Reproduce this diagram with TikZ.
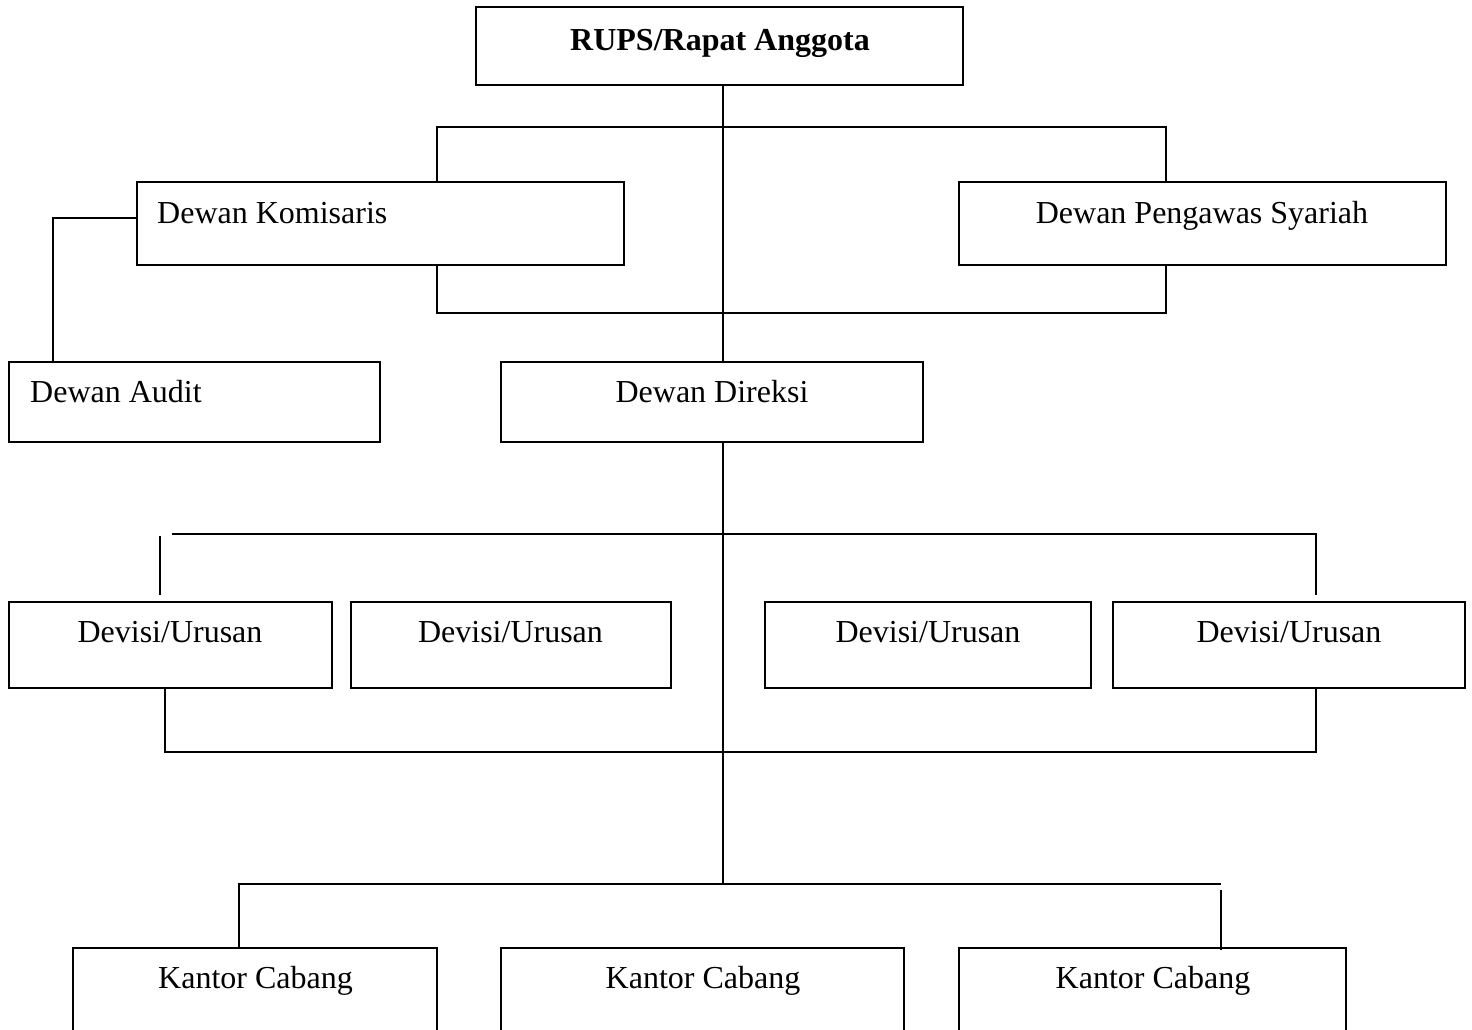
\documentclass[tikz,border=0pt]{standalone}
\usepackage{fontspec}
\setmainfont{Liberation Serif}
\begin{document}
\begin{tikzpicture}[x=1pt,y=-1pt,
  box/.style={draw, line width=1.6pt, inner sep=0pt, rectangle},
  txt/.style={inner sep=0pt, font=\fontsize{32}{38}\selectfont},
  conn/.style={line width=1.6pt}]
\useasboundingbox[fill=white] (0,0) rectangle (1472,1030);
\clip (0,0) rectangle (1472,1030);
% boxes
\node[box, minimum width=487, minimum height=78] (rups) at (719.5,46) {};
\node[box, minimum width=487, minimum height=83] (kom) at (380.5,223.5) {};
\node[box, minimum width=487, minimum height=83] (ps) at (1202.5,223.5) {};
\node[box, minimum width=371, minimum height=80] (audit) at (194.5,402) {};
\node[box, minimum width=422, minimum height=80] (direksi) at (712,402) {};
\node[box, minimum width=323, minimum height=86] (dev1) at (170.5,645) {};
\node[box, minimum width=320, minimum height=86] (dev2) at (511,645) {};
\node[box, minimum width=326, minimum height=86] (dev3) at (928,645) {};
\node[box, minimum width=352, minimum height=86] (dev4) at (1289,645) {};
\node[box, minimum width=364, minimum height=112] (kc1) at (255,1004) {};
\node[box, minimum width=403, minimum height=112] (kc2) at (702.5,1004) {};
\node[box, minimum width=387, minimum height=112] (kc3) at (1152.5,1004) {};
% texts
\node[txt, anchor=base] (rupst) at (720,51) {\bfseries RUPS/Rapat Anggota};
\node[txt, anchor=base west] (komt) at (157,223) {Dewan Komisaris};
\node[txt, anchor=base] (pst) at (1202,223) {Dewan Pengawas Syariah};
\node[txt, anchor=base west] (auditt) at (30,402) {Dewan Audit};
\node[txt, anchor=base] (direksit) at (712,402) {Dewan Direksi};
\node[txt, anchor=base] (dev1t) at (170,642) {Devisi/Urusan};
\node[txt, anchor=base] (dev2t) at (510.5,642) {Devisi/Urusan};
\node[txt, anchor=base] (dev3t) at (928,642) {Devisi/Urusan};
\node[txt, anchor=base] (dev4t) at (1289,642) {Devisi/Urusan};
\node[txt, anchor=base] (kc1t) at (255.5,988) {Kantor Cabang};
\node[txt, anchor=base] (kc2t) at (703,988) {Kantor Cabang};
\node[txt, anchor=base] (kc3t) at (1153,988) {Kantor Cabang};
% coordinates
\coordinate (c1) at (723,127);
\coordinate (kt) at (437,127);
\coordinate (pt) at (1166,127);
\coordinate (kb) at (437,313);
\coordinate (pb) at (1166,313);
\coordinate (ac) at (53,218);
\coordinate (j3) at (723,884);
\coordinate (dtl) at (172,534);
\coordinate (dtr) at (1316,534);
\coordinate (dtre) at (1316,595);
\coordinate (dls) at (160,536);
\coordinate (dle) at (160,595);
\coordinate (dbl) at (165,752);
\coordinate (dbr) at (1316,752);
\coordinate (kl) at (239,884);
\coordinate (kr) at (1221,884);
\coordinate (krs) at (1221,890);
\coordinate (kre) at (1221,950);
% connectors
\draw[conn] (rups.south -| c1) -- (direksi.north -| c1);
\draw[conn] (kom.north -| kt) -- (kt) -- (pt) -- (ps.north -| pt);
\draw[conn] (kom.south -| kb) -- (kb) -- (pb) -- (ps.south -| pb);
\draw[conn] (kom.west |- ac) -- (ac) -- (audit.north -| ac);
\draw[conn] (direksi.south -| c1) -- (j3);
\draw[conn] (dtl) -- (dtr) -- (dtre);
\draw[conn] (dls) -- (dle);
\draw[conn] (dev1.south -| dbl) -- (dbl) -- (dbr) -- (dev4.south -| dbr);
\draw[conn] (kc1.north -| kl) -- (kl) -- (kr);
\draw[conn] (krs) -- (kre);
\end{tikzpicture}
\end{document}
